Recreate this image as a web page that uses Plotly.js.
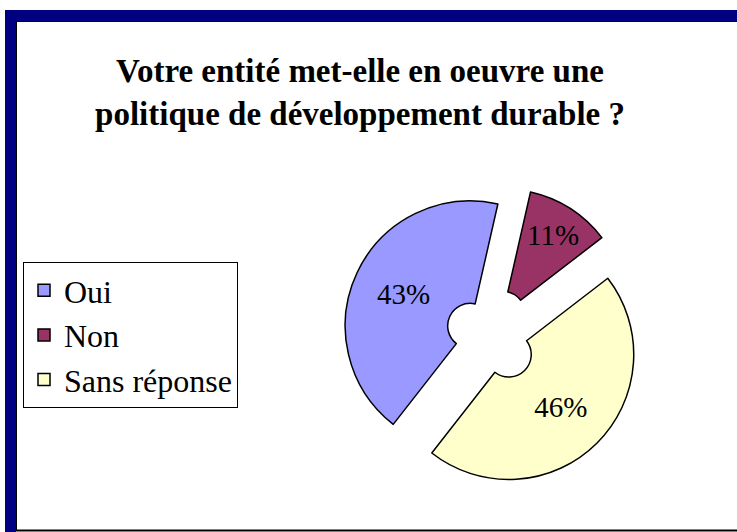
<!DOCTYPE html>
<html>
<head>
<meta charset="utf-8">
<script src="https://cdn.plot.ly/plotly-3.0.1.min.js"></script>
<style>
  html, body { margin: 0; padding: 0; background: #ffffff; }
  #chart { width: 737px; height: 532px; }
</style>
</head>
<body>
<div id="chart"></div>
<script>
// ---- data ----
const categories = ['Oui', 'Non', 'Sans réponse'];
const values = [43, 11, 46];
const sliceColors = ['#9999FF', '#993366', '#FFFFCC'];
const pulls = [0.17, 0.2, 0.22];
const chartTitle = 'Votre entité met-elle en oeuvre une<br>politique de développement durable ?';

const W = 737, H = 532;
const px = v => v / W;
const py = v => 1 - v / H;
const navy = '#000080';
const serif = 'Tinos';

const trace = {
  type: 'pie',
  labels: categories,
  values: values,
  sort: false,
  direction: 'clockwise',
  rotation: 218,
  hole: 0.18,
  pull: pulls,
  marker: { colors: sliceColors, line: { color: '#000000', width: 1.5 } },
  textinfo: 'percent',
  texttemplate: '%{percent:.0%}',
  textposition: 'inside',
  insidetextorientation: 'horizontal',
  insidetextfont: { family: serif, size: 29, color: '#000000' },
  domain: { x: [0.457, 0.871], y: [0.0837, 0.657] },
  hoverinfo: 'label+percent'
};

const layout = {
  width: W,
  height: H,
  margin: { l: 0, r: 0, t: 0, b: 0 },
  paper_bgcolor: '#ffffff',
  plot_bgcolor: '#ffffff',
  showlegend: true,
  font: { family: serif },
  title: {
    text: chartTitle,
    x: 0.4885,
    xanchor: 'center',
    xref: 'paper',
    y: py(82),
    yanchor: 'top',
    yref: 'paper',
    font: { family: serif, size: 33, color: '#000000', weight: 'bold' }
  },
  legend: {
    x: px(23),
    y: py(262),
    xanchor: 'left',
    yanchor: 'top',
    bgcolor: '#ffffff',
    bordercolor: '#000000',
    borderwidth: 1,
    font: { family: serif, size: 32, color: '#000000' },
    traceorder: 'normal'
  },
  shapes: [
    { type: 'rect', xref: 'paper', yref: 'paper', x0: px(5), x1: 1.05, y0: py(21), y1: py(10),
      fillcolor: navy, line: { width: 0 }, layer: 'above' },
    { type: 'rect', xref: 'paper', yref: 'paper', x0: px(5), x1: px(16), y0: -0.05, y1: py(10),
      fillcolor: navy, line: { width: 0 }, layer: 'above' },
    { type: 'line', xref: 'paper', yref: 'paper', x0: px(16), x1: 1.05, y0: py(21.5), y1: py(21.5),
      line: { color: '#000000', width: 1 }, layer: 'above' },
    { type: 'line', xref: 'paper', yref: 'paper', x0: px(16.5), x1: px(16.5), y0: py(531), y1: py(21),
      line: { color: '#000000', width: 1 }, layer: 'above' },
    { type: 'line', xref: 'paper', yref: 'paper', x0: px(16), x1: 1.05, y0: py(530.5), y1: py(530.5),
      line: { color: '#000000', width: 2 }, layer: 'above' }
  ]
};

Plotly.newPlot('chart', [trace], layout, { displayModeBar: false, staticPlot: true });
</script>
</body>
</html>
